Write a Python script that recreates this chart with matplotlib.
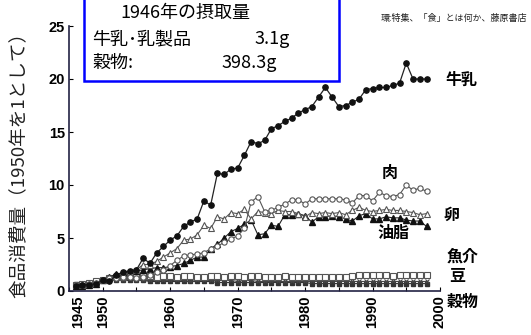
import matplotlib
matplotlib.use("Agg")
import matplotlib.pyplot as plt
import matplotlib.transforms as mtransforms
from matplotlib.patches import Rectangle

plt.rcParams['font.family'] = ['Noto Sans CJK JP', 'DejaVu Sans']

years = list(range(1946, 1999))

milk = [0.5, 0.6, 0.6, 0.7, 1.0, 0.9, 1.5, 1.8, 1.9, 2.0,
        3.1, 2.6, 3.6, 4.2, 4.8, 5.2, 6.1, 6.5, 6.8, 8.5,
        8.1, 11.1, 11.0, 11.5, 11.6, 12.8, 14.1, 13.9, 14.2, 15.3,
        15.6, 16.0, 16.3, 16.8, 17.1, 17.4, 18.3, 19.2, 18.3, 17.4,
        17.5, 17.8, 18.1, 19.0, 19.1, 19.2, 19.2, 19.4, 19.6, 21.5,
        20.0, 20.0, 20.0]
meat = [0.6, 0.6, 0.7, 0.8, 1.0, 1.2, 1.2, 1.3, 1.3, 1.2,
        1.3, 1.5, 1.8, 2.0, 2.4, 2.9, 3.3, 3.4, 3.5, 3.6,
        4.0, 4.2, 4.6, 4.9, 5.2, 5.9, 8.4, 8.9, 7.5, 7.6,
        7.9, 8.2, 8.6, 8.6, 8.2, 8.7, 8.7, 8.7, 8.7, 8.7,
        8.6, 8.3, 9.0, 9.0, 8.5, 9.3, 9.0, 8.9, 9.1, 10.0,
        9.5, 9.7, 9.4]
eggs = [0.6, 0.6, 0.7, 0.8, 1.0, 1.2, 1.4, 1.6, 1.8, 2.0,
        2.5, 2.5, 2.8, 3.2, 3.6, 4.0, 4.8, 4.9, 5.3, 6.2,
        5.9, 7.0, 6.8, 7.4, 7.3, 7.7, 6.8, 7.5, 7.4, 7.3,
        7.6, 7.5, 7.5, 7.3, 7.0, 7.4, 7.3, 7.4, 7.3, 7.4,
        7.2, 7.6, 7.9, 7.6, 7.5, 7.6, 7.7, 7.6, 7.6, 7.5,
        7.4, 7.2, 7.3]
oils = [0.5, 0.5, 0.6, 0.7, 1.0, 1.3, 1.6, 1.7, 1.8, 1.9,
        2.0, 2.1, 2.2, 2.2, 2.3, 2.4, 2.6, 2.9, 3.2, 3.2,
        4.0, 4.4, 5.0, 5.6, 5.9, 6.3, 6.7, 5.3, 5.4, 6.2,
        6.1, 7.2, 7.2, 7.3, 7.1, 6.5, 7.0, 7.0, 7.1, 7.0,
        6.8, 6.6, 7.1, 7.3, 6.8, 6.8, 7.0, 6.9, 6.9, 6.7,
        6.6, 6.6, 6.1]
fish = [0.6, 0.7, 0.8, 0.9, 1.0, 1.2, 1.3, 1.3, 1.4, 1.3,
        1.4, 1.4, 1.3, 1.4, 1.4, 1.3, 1.4, 1.4, 1.3, 1.3,
        1.4, 1.4, 1.3, 1.4, 1.4, 1.3, 1.4, 1.4, 1.3, 1.3,
        1.3, 1.4, 1.3, 1.3, 1.3, 1.3, 1.3, 1.3, 1.3, 1.3,
        1.3, 1.4, 1.5, 1.5, 1.5, 1.5, 1.5, 1.4, 1.5, 1.5,
        1.5, 1.5, 1.5]
beans = [0.5, 0.6, 0.7, 0.8, 1.0, 1.0, 1.0, 1.0, 1.1, 1.0,
         1.0, 1.0, 1.0, 1.0, 1.0, 1.0, 1.0, 0.9, 1.0, 1.0,
         1.0, 1.0, 1.0, 1.0, 0.9, 1.0, 1.0, 0.9, 0.9, 0.9,
         0.9, 0.9, 0.9, 0.9, 0.9, 0.9, 0.9, 0.9, 0.9, 0.9,
         0.9, 0.9, 0.9, 0.9, 0.9, 0.9, 0.9, 0.9, 0.9, 0.9,
         0.9, 0.9, 0.9]
grains = [0.7, 0.7, 0.8, 0.9, 1.0, 1.0, 1.0, 1.0, 1.0, 1.0,
          1.0, 0.9, 0.9, 0.9, 0.9, 0.9, 0.9, 0.9, 0.9, 0.9,
          0.9, 0.8, 0.8, 0.8, 0.8, 0.8, 0.8, 0.8, 0.8, 0.8,
          0.8, 0.8, 0.8, 0.8, 0.8, 0.7, 0.7, 0.7, 0.7, 0.7,
          0.7, 0.7, 0.7, 0.7, 0.7, 0.7, 0.7, 0.7, 0.7, 0.7,
          0.7, 0.7, 0.7]

xtick_years = [1945, 1950, 1960, 1970, 1980, 1990, 2000]
yticks = [0, 5, 10, 15, 20, 25]

# series labels: (text, x px, y px)
series_labels = [("牛乳", 462, 80), ("肉", 390, 173), ("卵", 452, 215),
                 ("油脂", 393, 233), ("魚介", 463, 257), ("豆", 457, 276),
                 ("穀物", 463, 302)]

W, H = 531, 335
fig = plt.figure(figsize=(W / 100, H / 100), dpi=100)
ax = fig.add_axes([69 / W, 1 - 291 / H, (440 - 69) / W, (291 - 26) / H])

ms = 3.8
ax.plot(years, grains, color="#333333", lw=0.8, marker="s", ms=2.5, mfc="#333333", mec="#333333")
ax.plot(years, beans, color="#444444", lw=0.8, marker="x", ms=3, mew=0.8)
ax.plot(years, fish, color="#555555", lw=0.8, marker="s", ms=ms, mfc="white", mec="#555555", mew=0.8)
ax.plot(years, oils, color="#222222", lw=0.8, marker="^", ms=ms, mfc="#111111", mec="#111111")
ax.plot(years, eggs, color="#555555", lw=0.8, marker="^", ms=ms, mfc="white", mec="#555555", mew=0.8)
ax.plot(years, meat, color="#555555", lw=0.8, marker="o", ms=ms, mfc="white", mec="#555555", mew=0.8)
ax.plot(years, milk, color="#222222", lw=0.9, marker="o", ms=ms, mfc="#111111", mec="#111111")

ax.set_xlim(1945, 2000)
ax.set_ylim(0, 25)
for s in ["top", "right"]:
    ax.spines[s].set_visible(False)
for s in ["left", "bottom"]:
    ax.spines[s].set_color("#222244")
    ax.spines[s].set_linewidth(1.2)

ax.set_yticks(yticks)
ax.set_yticklabels([str(v) for v in yticks], fontsize=10.5, fontweight="bold",
                   family=["Liberation Sans", "DejaVu Sans"])
ax.set_xticks(xtick_years)
ax.set_xticklabels([str(v) for v in xtick_years], rotation=90, fontsize=10.5,
                   fontweight="bold", family=["Liberation Sans", "DejaVu Sans"])
ax.set_xticks(range(1955, 2000, 10), minor=True)
ax.tick_params(axis="both", which="both", direction="in", length=3, width=0.8, pad=3)

# the 1945 label sits a little right of its tick
lbl = ax.get_xticklabels()[0]
lbl.set_transform(lbl.get_transform() + mtransforms.ScaledTranslation(9 / 100, 0, fig.dpi_scale_trans))

fig.text(20 / W, 1 - 160 / H, "食品消費量（1950年を1として）", rotation=90,
         ha="center", va="center", fontsize=13.4, color="#222222")

for txt, px, py in series_labels:
    fig.text(px / W, 1 - py / H, txt, ha="center", va="center",
             fontsize=11.5, fontweight="bold", color="black")

# info box
fig.add_artist(Rectangle((84 / W, 1 - 81 / H), (339 - 84) / W, 90 / H,
                         transform=fig.transFigure, fill=True, facecolor="white",
                         edgecolor="#0000ff", lw=1.8))
fig.text(120 / W, 1 - 13 / H, "1946年の摂取量", ha="left", va="center", fontsize=13)
fig.text(92 / W, 1 - 39 / H, "牛乳･乳製品", ha="left", va="center", fontsize=13)
fig.text(290 / W, 1 - 39 / H, "3.1g", ha="right", va="center", fontsize=13)
fig.text(92 / W, 1 - 63 / H, "穀物:", ha="left", va="center", fontsize=13)
fig.text(277 / W, 1 - 63 / H, "398.3g", ha="right", va="center", fontsize=13)

fig.text(527 / W, 1 - 18 / H, "環:特集、「食」とは何か、藤原書店", ha="right", va="center",
         fontsize=6.5, color="#222222")

fig.savefig("out.png", dpi=100)
